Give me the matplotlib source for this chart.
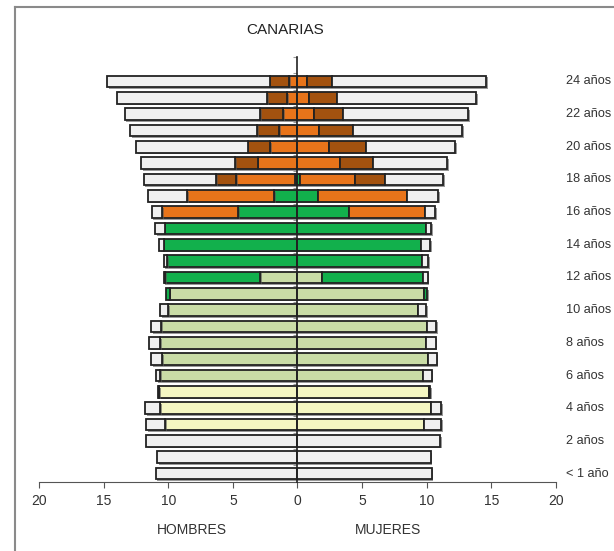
import numpy as np
import matplotlib.pyplot as plt
import matplotlib.patheffects as pe
from matplotlib.lines import Line2D

plt.rcParams['font.family'] = ['Liberation Sans', 'DejaVu Sans']

# ages 0..24, widths of each segment (thousands of people)
ages = list(range(25))
age_labels = ['< 1 año'] + [f'{a} años' for a in range(1, 25)]

# hombres
m_infantil = [0, 0, 0, 10.22, 10.6, 10.7, 0, 0, 0, 0, 0, 0, 0, 0, 0, 0, 0, 0, 0, 0, 0, 0, 0, 0, 0]
m_primaria = [0, 0, 0, 0, 0, 0, 10.6, 10.47, 10.6, 10.55, 10.01, 9.88, 2.88, 0, 0, 0, 0, 0, 0, 0, 0, 0, 0, 0, 0]
m_eso = [0, 0, 0, 0, 0, 0, 0, 0, 0, 0, 0, 0.28, 7.34, 10.09, 10.35, 10.27, 4.6, 1.78, 0.23, 0, 0, 0, 0, 0, 0]
m_postobl = [0, 0, 0, 0, 0, 0, 0, 0, 0, 0, 0, 0, 0, 0, 0, 0, 5.85, 6.76, 4.5, 3.09, 2.11, 1.44, 1.13, 0.82, 0.66]
m_univ = [0, 0, 0, 0, 0, 0, 0, 0, 0, 0, 0, 0, 0, 0, 0, 0, 0, 0, 1.55, 1.75, 1.75, 1.7, 1.75, 1.54, 1.5]
m_noestudia = [10.96, 10.86, 11.71, 1.49, 1.19, 0.06, 0.34, 0.85, 0.88, 0.77, 0.59, 0, 0.13, 0.26, 0.33, 0.72,
               0.82, 3.04, 5.61, 7.28, 8.64, 9.83, 10.48, 11.59, 12.56]

# mujeres
f_infantil = [0, 0, 0, 9.81, 10.32, 10.2, 0, 0, 0, 0, 0, 0, 0, 0, 0, 0, 0, 0, 0, 0, 0, 0, 0, 0, 0]
f_primaria = [0, 0, 0, 0, 0, 0, 9.73, 10.07, 9.94, 10.04, 9.3, 9.81, 1.88, 0, 0, 0, 0, 0, 0, 0, 0, 0, 0, 0, 0]
f_eso = [0, 0, 0, 0, 0, 0, 0, 0, 0, 0, 0, 0.23, 7.85, 9.6, 9.55, 9.94, 4.02, 1.62, 0.2, 0, 0, 0, 0, 0, 0]
f_postobl = [0, 0, 0, 0, 0, 0, 0, 0, 0, 0, 0, 0, 0, 0, 0, 0, 5.84, 6.88, 4.26, 3.3, 2.4, 1.7, 1.24, 0.9, 0.77]
f_univ = [0, 0, 0, 0, 0, 0, 0, 0, 0, 0, 0, 0, 0, 0, 0, 0, 0, 0, 2.31, 2.57, 2.9, 2.58, 2.31, 2.14, 1.88]
f_noestudia = [10.38, 10.3, 11.02, 1.29, 0.78, 0.05, 0.65, 0.69, 0.74, 0.67, 0.64, 0, 0.34, 0.52, 0.7, 0.38,
               0.77, 2.39, 4.5, 5.71, 6.9, 8.44, 9.68, 10.76, 11.97]

colors = ['#f4f6c2', '#c9dca6', '#12b04c', '#e8741a', '#a3520f', '#f0f0f0']
male = [m_infantil, m_primaria, m_eso, m_postobl, m_univ, m_noestudia]
female = [f_infantil, f_primaria, f_eso, f_postobl, f_univ, f_noestudia]

fig = plt.figure(figsize=(6.14, 5.51), dpi=100)
ax = fig.add_axes([0.0635, 0.1258, 0.842, 0.7708])

shadow = [pe.SimplePatchShadow(offset=(1.2, -1.2), shadow_rgbFace='#555555', alpha=0.6), pe.Normal()]

# draw stacked bars outward from the centre
for data, sign in [(male, -1), (female, 1)]:
    left = np.zeros(len(ages))
    for seg, col in zip(data, colors):
        seg = np.array(seg)
        mask = seg > 0
        bars = ax.barh(np.array(ages)[mask], sign * seg[mask], left=sign * left[mask], height=0.72,
                       color=col, edgecolor='#222222', linewidth=1.3, zorder=2)
        for b in bars:
            b.set_path_effects(shadow)
        left = left + seg

ax.set_xlim(-20, 20)
ax.set_ylim(-0.5, 25.5)
ax.set_xticks(range(-20, 21, 5))
ax.set_xticklabels([str(abs(v)) for v in range(-20, 21, 5)], fontsize=10, color='#333333')
ax.tick_params(axis='x', length=4, color='#555555', pad=5)

ax.spines['top'].set_visible(False)
ax.spines['right'].set_visible(False)
ax.spines['left'].set_position(('data', 0))
ax.spines['left'].set_color('#222222')
ax.spines['left'].set_linewidth(1.2)
ax.spines['left'].set_zorder(3)
ax.spines['bottom'].set_color('#555555')
ax.set_yticks(np.arange(-0.5, 26, 1))
ax.set_yticklabels([])
ax.tick_params(axis='y', length=3, color='#999999')

for a in ages[::2]:
    ax.text(20.8, a, age_labels[a], ha='left', va='center', fontsize=9.2, color='#333333', clip_on=False)

fig.text(0.464, 0.945, 'CANARIAS', ha='center', va='center', fontsize=11, color='#222222')
fig.text(0.312, 0.038, 'HOMBRES', ha='center', va='center', fontsize=10, color='#333333')
fig.text(0.632, 0.038, 'MUJERES', ha='center', va='center', fontsize=10, color='#333333')

# frame around the chart area
fig.add_artist(Line2D([15 / 614, 15 / 614], [0, 1 - 7 / 551], color='#8a8a8a', lw=1.5))
fig.add_artist(Line2D([15 / 614, 1], [1 - 7 / 551, 1 - 7 / 551], color='#8a8a8a', lw=1.5))

fig.savefig('out.png', dpi=100)
